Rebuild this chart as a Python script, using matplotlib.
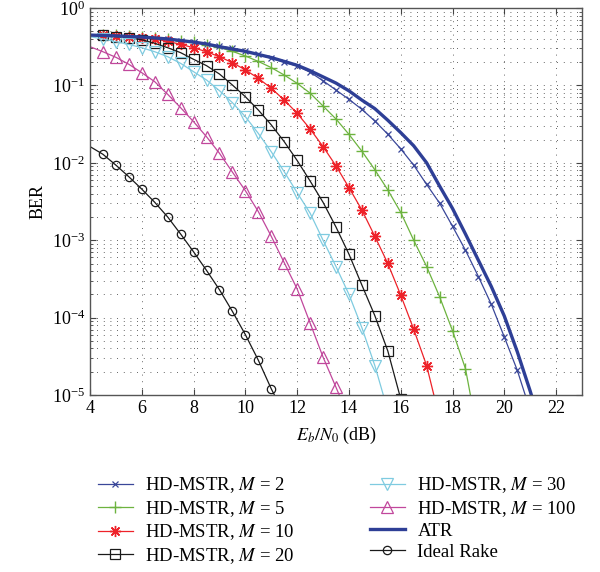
import numpy as np
import matplotlib
matplotlib.use('Agg')
import matplotlib.pyplot as plt
from matplotlib.ticker import LogLocator, MultipleLocator, NullFormatter

plt.rcParams['font.family'] = ['Liberation Serif', 'DejaVu Serif']
plt.rcParams['mathtext.fontset'] = 'stix'

# Eb/N0 grid (dB), every curve starts at 4 dB with 0.5 dB steps
step = 0.5
x0 = 4.0

# log10(BER)
m2 = [-0.35, -0.355, -0.36, -0.37, -0.38, -0.39, -0.405, -0.42, -0.44, -0.465,
      -0.49, -0.52, -0.555, -0.60, -0.65, -0.70, -0.75, -0.83, -0.94, -1.06,
      -1.18, -1.31, -1.46, -1.63, -1.82, -2.03, -2.28, -2.52, -2.82, -3.13,
      -3.47, -3.83, -4.25, -4.68, -5.2]
m5 = [-0.345, -0.35, -0.355, -0.365, -0.375, -0.39, -0.405, -0.42, -0.445, -0.475,
      -0.51, -0.56, -0.62, -0.69, -0.77, -0.866, -0.973, -1.10, -1.266, -1.434,
      -1.632, -1.85, -2.09, -2.35, -2.64, -3.0, -3.34, -3.73, -4.17, -4.66, -5.55]
m10 = [-0.345, -0.35, -0.36, -0.37, -0.385, -0.40, -0.43, -0.47, -0.513, -0.565,
       -0.63, -0.706, -0.80, -0.908, -1.037, -1.189, -1.36, -1.563, -1.79, -2.04,
       -2.32, -2.61, -2.95, -3.30, -3.71, -4.15, -4.62, -5.3]
m20 = [-0.345, -0.355, -0.37, -0.385, -0.41, -0.456, -0.513, -0.577, -0.663, -0.745,
       -0.853, -0.995, -1.146, -1.318, -1.51, -1.727, -1.97, -2.235, -2.51, -2.83,
       -3.18, -3.58, -3.975, -4.43, -5.05]
m30 = [-0.37, -0.40, -0.435, -0.47, -0.513, -0.565, -0.629, -0.715, -0.823, -0.93,
       -1.068, -1.223, -1.404, -1.62, -1.857, -2.115, -2.386, -2.65, -3.0, -3.34,
       -3.70, -4.13, -4.62, -5.2]
m100 = [-0.50, -0.565, -0.637, -0.727, -0.836, -0.952, -1.115, -1.288, -1.469, -1.663,
        -1.877, -2.12, -2.36, -2.63, -2.95, -3.29, -3.63, -4.07, -4.51, -4.9, -5.3]
atr = [-0.35, -0.355, -0.36, -0.367, -0.375, -0.387, -0.40, -0.42, -0.44, -0.465,
       -0.50, -0.53, -0.56, -0.60, -0.64, -0.69, -0.74, -0.81, -0.89, -0.97,
       -1.07, -1.19, -1.30, -1.45, -1.61, -1.78, -2.0, -2.30, -2.59, -2.92,
       -3.26, -3.60, -3.98, -4.44, -4.95, -5.5]
rake = [-1.79, -1.89, -2.03, -2.18, -2.34, -2.51, -2.70, -2.92, -3.15, -3.39,
        -3.64, -3.92, -4.22, -4.55, -4.92, -5.25]

labels = ['HD-MSTR, $M$ = 2', 'HD-MSTR, $M$ = 5', 'HD-MSTR, $M$ = 10',
          'HD-MSTR, $M$ = 20', 'HD-MSTR, $M$ = 30', 'HD-MSTR, $M$ = 100',
          'ATR', 'Ideal Rake']

def snr(vals):
    return x0 + step * np.arange(len(vals))

fig = plt.figure(figsize=(6, 5.72), dpi=100)
ax = fig.add_axes([0.15, 0.3094, 0.82, 0.6766])

every = slice(1, None)
ax.semilogy(snr(m2), 10.0**np.array(m2), color='#3a4799', lw=0.9, marker='x',
            ms=5, mew=0.9, markevery=every, label=labels[0])
ax.semilogy(snr(m5), 10.0**np.array(m5), color='#6db33f', lw=0.9, marker='+',
            ms=9, mew=1.0, markevery=every, label=labels[1])
ax.semilogy(snr(m10), 10.0**np.array(m10), color='#ee2229', lw=0.9, marker=(8, 2, 0),
            ms=8, mew=1.0, markevery=every, label=labels[2])
ax.semilogy(snr(m20), 10.0**np.array(m20), color='#1a1a1a', lw=0.9, marker='s',
            ms=7, mew=0.9, mfc='none', markevery=every, label=labels[3])
ax.semilogy(snr(m30), 10.0**np.array(m30), color='#7fcbe0', lw=0.9, marker='v',
            ms=8, mew=0.9, mfc='none', markevery=every, label=labels[4])
ax.semilogy(snr(m100), 10.0**np.array(m100), color='#c1479c', lw=0.9, marker='^',
            ms=8, mew=0.9, mfc='none', markevery=every, label=labels[5])
ax.semilogy(snr(atr), 10.0**np.array(atr), color='#2e3f96', lw=2.4, label=labels[6])
ax.semilogy(snr(rake), 10.0**np.array(rake), color='#1a1a1a', lw=0.9, marker='o',
            ms=6, mew=0.9, mfc='none', markevery=every, label=labels[7])

ax.set_xlim(4, 23)
ax.set_ylim(1e-5, 1)
ax.xaxis.set_major_locator(MultipleLocator(2))
ax.yaxis.set_major_locator(LogLocator(base=10, numticks=10))
ax.yaxis.set_minor_locator(LogLocator(base=10, subs=np.arange(2, 10), numticks=20))
ax.yaxis.set_minor_formatter(NullFormatter())

ax.grid(True, which='major', axis='x', color='#333333', lw=0.6, ls=(0, (1, 7)))
ax.grid(True, which='both', axis='y', color='#333333', lw=0.6, ls=(0, (1, 7)))

ax.tick_params(which='both', direction='in', top=True, right=True,
               labelsize=13, color='#444444')
ax.tick_params(which='major', length=4)
ax.tick_params(which='minor', length=2.5)
for s in ax.spines.values():
    s.set_color('#555555')
    s.set_linewidth(1.0)

ax.set_xlabel('$E_b/N_0$ (dB)', fontsize=13, labelpad=6)
ax.set_ylabel('BER', fontsize=13, labelpad=4)

fig.legend(loc='upper left', bbox_to_anchor=(0.15, 0.182), ncol=2, frameon=False,
           fontsize=13.5, handlelength=1.9, handletextpad=0.65, labelspacing=0.2,
           columnspacing=4.0, borderaxespad=0)

fig.savefig('out.png', dpi=100)
